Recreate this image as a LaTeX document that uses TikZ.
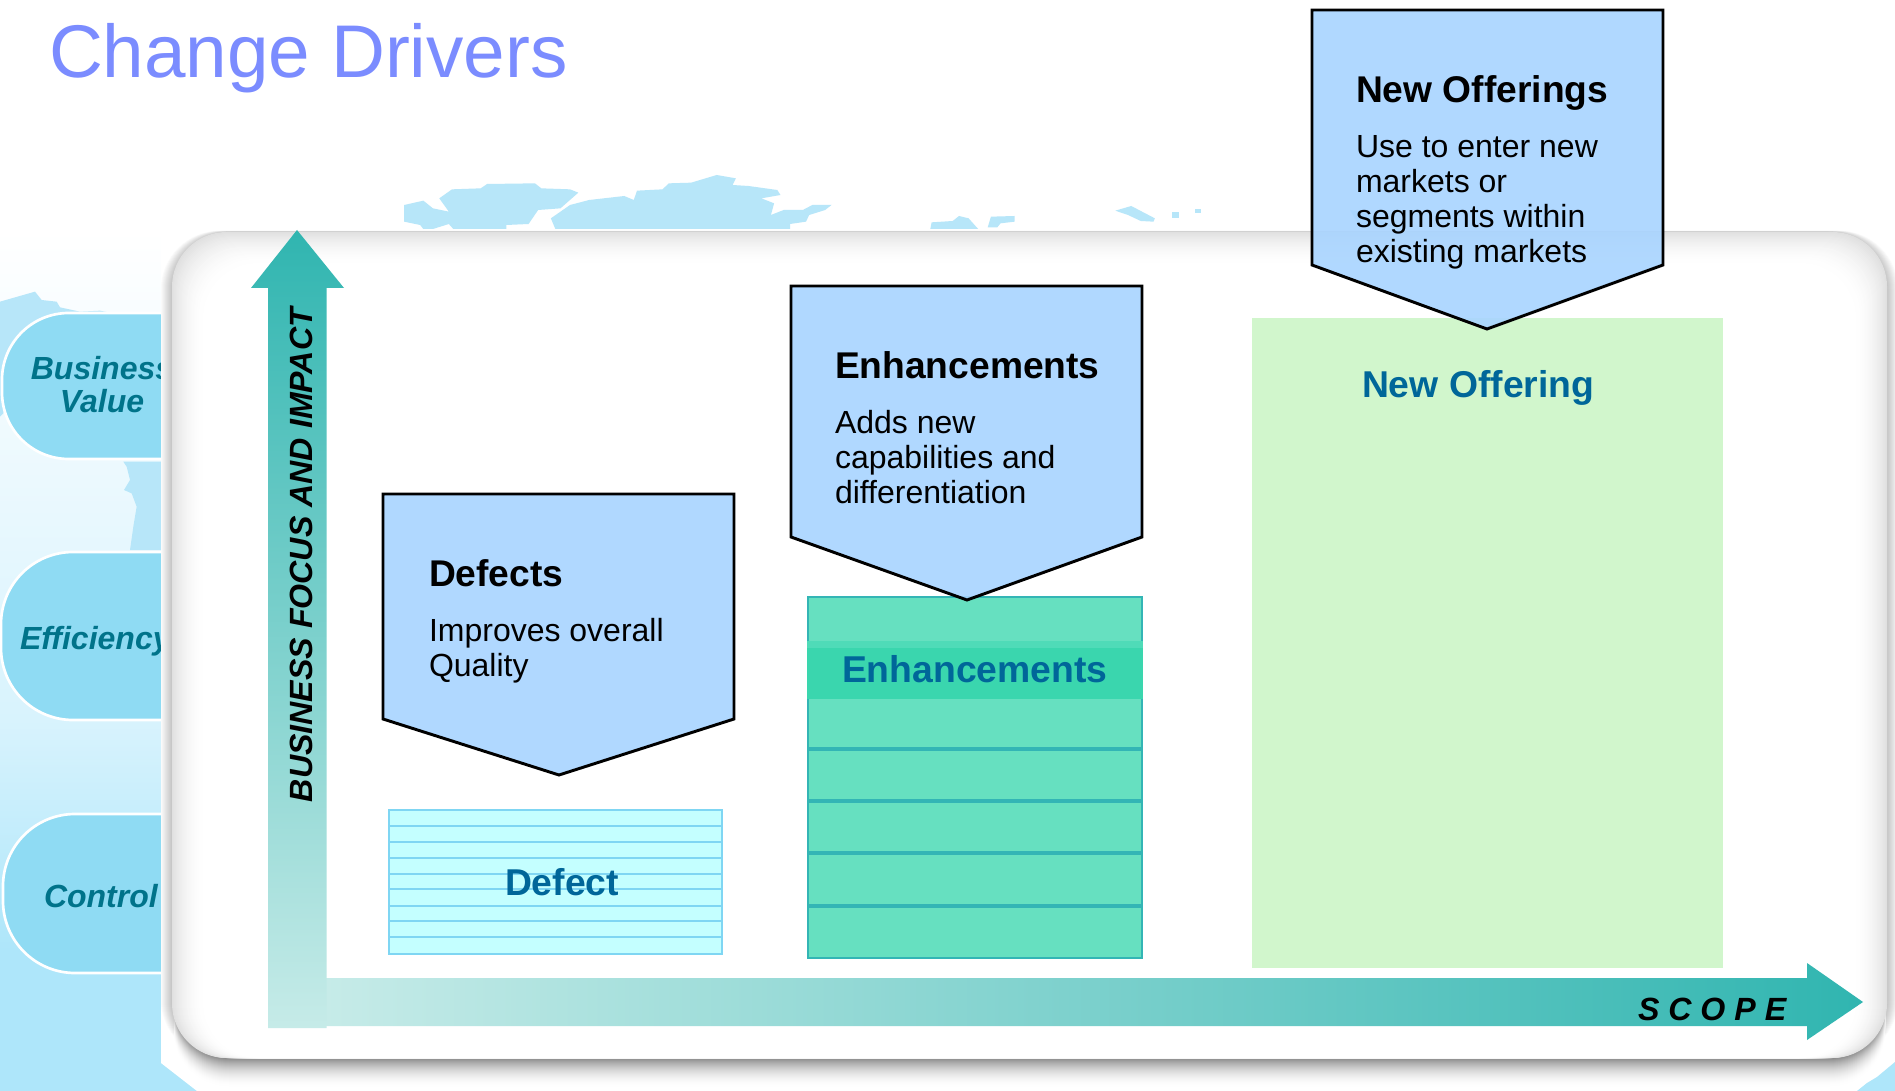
\documentclass[tikz,border=0pt]{standalone}
\usepackage{fontspec}
\setmainfont{Liberation Sans}
\definecolor{skyb}{HTML}{AEE6FA}
\definecolor{skym}{HTML}{D8F3FD}
\definecolor{mapb}{HTML}{B7E6F9}
\definecolor{pillb}{HTML}{8FDBF3}
\definecolor{pilltxt}{HTML}{00738A}
\definecolor{boxtxt}{HTML}{006699}
\definecolor{pentb}{HTML}{A8D4FF}
\definecolor{teal1}{HTML}{30B5B0}
\definecolor{teal2}{HTML}{93D5CF}
\definecolor{teal2x}{HTML}{A2DBD6}
\definecolor{teal3}{HTML}{C6EBE8}
\definecolor{defl}{HTML}{7FD6F3}
\definecolor{deff}{HTML}{C4FFFF}
\definecolor{enhf}{HTML}{66E0C0}
\definecolor{enhb}{HTML}{3AD6AE}
\definecolor{enhc}{HTML}{4FDBB8}
\definecolor{enhl}{HTML}{33B5B5}
\definecolor{newf}{HTML}{D1F6CC}
\definecolor{ttl}{HTML}{7B8CFF}
\tikzset{
  lbl/.style={inner sep=0,outer sep=0},
  pilltext/.style={lbl,text=pilltxt,font=\bfseries\itshape\fontsize{24}{24.75}\selectfont},
  pillshape/.style={fill=pillb,draw=white,line width=2pt},
  mapshape/.style={fill=mapb,draw=none},
  pent/.style={fill=pentb,fill opacity=.9,draw=black,draw opacity=1,line width=2.2pt,line join=miter},
  penttitle/.style={lbl,anchor=base west,font=\bfseries\fontsize{27.9}{30}\selectfont},
  pentbody/.style={lbl,anchor=base west,align=left,font=\fontsize{24}{26.25}\selectfont},
  boxlabel/.style={lbl,anchor=base west,text=boxtxt,font=\bfseries\fontsize{28}{30}\selectfont},
  axislabel/.style={lbl,text=black,font=\bfseries\itshape\fontsize{24.1}{26}\selectfont},
}
\begin{document}
\begin{tikzpicture}[x=0.75pt,y=-0.75pt]
\useasboundingbox (0,0) rectangle (1895,1091);
\fill[white] (0,0) rectangle (1895,1091);
% left background
\shade[top color=white,bottom color=skym,draw=none] (0,230) rectangle (200,720);
\shade[top color=skym,bottom color=skyb,draw=none] (0,720) rectangle (200,950);
\fill[skyb] (0,950) rectangle (200,1091);
% left map pieces
\begin{scope}[shift={(0,270)},x=.25pt,y=-.25pt]
\fill[mapshape] (0,95) -- (105,65) -- (125,90) -- (170,95) -- (180,112) -- (240,125) -- (300,122) -- (330,128) -- (330,300) -- (30,300) -- (10,430) -- (0,440) -- cycle;
\fill[mapshape] (370,575) -- (600,575) -- (600,840) -- (390,840) -- (400,770) -- (410,710) -- (395,670) -- (372,660) -- (390,630) -- (380,590) -- cycle;
\end{scope}
% pills
\draw[pillshape,rounded corners=50pt] (2,313) rectangle (300,459);
\draw[pillshape,rounded corners=54pt] (1,552) rectangle (300,720);
\draw[pillshape,rounded corners=54pt] (3,814) rectangle (300,973);
\node[pilltext,align=center,anchor=base] (bv) at (102,412) {Business\\Value};
\node[pilltext,anchor=base west] (eff) at (20,649) {Efficiency};
\node[pilltext,anchor=base west] (ctl) at (44,907) {Control};
% panel
\fill[white] (161,0) -- (1895,0) -- (1895,1062) -- (1877,1077) -- (1857,1091) -- (197,1091) -- (161,1063) -- cycle;
\begin{scope}
\clip (161,0) -- (1895,0) -- (1895,1062) -- (1877,1077) -- (1857,1091) -- (197,1091) -- (161,1063) -- cycle;
% soft halo on all sides
\foreach \i in {12,11,...,0}{
  \pgfmathsetmacro{\p}{24*(1-\i/12)}
  \fill[black!\p!white,rounded corners=44pt] (172-\i,232-.1*\i) rectangle (1887+\i,1058);
}
% stronger shadow under the panel
\foreach \i in {30,29,...,0}{
  \pgfmathsetmacro{\p}{48*(1-\i/30)*(1-\i/30)}
  \fill[black!\p!white,rounded corners=42pt] (174,900) rectangle (1885,1058+\i);
}
% inner face, fading to white
\foreach \i in {0,1,...,34}{
  \pgfmathsetmacro{\p}{12*(1-\i/34)*(1-\i/34)}
  \fill[black!\p!white,rounded corners=41pt] (172+\i,232+\i) rectangle (1887-\i,1058);
}
\end{scope}
\fill[skyb] (1857,1091) -- (1867,1083) -- (1877,1077) -- (1895,1062) -- (1895,1091) -- cycle;
% top map pieces
\begin{scope}[shift={(350,150)},x=.4783pt,y=-.25pt]
\fill[mapshape] (85,165) -- (115,152) -- (130,175) -- (155,185) -- (140,145) -- (160,118) -- (205,115) -- (215,102) -- (290,100) -- (300,115) -- (345,118) -- (358,128) -- (330,175) -- (295,180) -- (280,222) -- (245,225) -- (245,237) -- (162,237) -- (155,222) -- (130,237) -- (115,237) -- (110,225) -- (85,215) -- cycle;
\fill[mapshape] (315,205) -- (345,165) -- (375,150) -- (430,138) -- (445,150) -- (450,122) -- (490,118) -- (500,100) -- (535,98) -- (575,75) -- (605,85) -- (600,105) -- (625,108) -- (670,120) -- (675,135) -- (645,145) -- (665,160) -- (660,195) -- (680,180) -- (710,180) -- (725,165) -- (755,165) -- (745,180) -- (720,195) -- (715,215) -- (690,222) -- (690,237) -- (322,237) -- cycle;
\fill[mapshape] (910,237) -- (912,217) -- (945,213) -- (955,198) -- (970,205) -- (985,237) -- cycle;
\fill[mapshape] (1000,232) -- (1005,200) -- (1042,198) -- (1042,215) -- (1020,220) -- (1015,232) -- cycle;
\fill[mapshape] (1200,182) -- (1225,168) -- (1262,205) -- (1260,215) -- (1240,213) -- (1220,195) -- cycle;
\fill[mapshape] (1289,187) rectangle (1300,205);
\fill[mapshape] (1325,178) rectangle (1335,189);
\end{scope}
\fill[mapshape] (1350,210) -- (1362,212) -- (1393,226) -- (1360,227) -- cycle;
% axes
\shade[left color=teal3,middle color=teal2x,right color=teal1] (326,978) -- (1807,978) -- (1807,963) -- (1863,1002) -- (1807,1040) -- (1807,1026) -- (326,1026) -- cycle;
\shade[top color=teal1,middle color=teal2,bottom color=teal3] (297,230) -- (344,288) -- (326.5,288) -- (326.5,1028) -- (268,1028) -- (268,288) -- (251,288) -- cycle;
\node[axislabel,rotate=90,anchor=base west] (yl) at (312,802) {BUSINESS FOCUS AND IMPACT};
\node[axislabel,anchor=base west] (xl) at (1638,1020) {S C O P E};
% new offering box
\fill[newf] (1252,318) rectangle (1723,968);
\node[boxlabel] (nobox) at (1362,397) {New Offering};
% defect box
\draw[fill=deff,draw=defl,line width=1.7pt] (389,810) rectangle (722,954);
\foreach \y in {826,842,858,874,889,906,921,937}{
  \draw[defl,line width=2pt] (389,\y) -- (722,\y);
}
\node[boxlabel] (defbox) at (505,895) {Defect};
% enhancements box
\draw[fill=enhf,draw=enhl,line width=1.8pt] (808,597) rectangle (1142,958);
\fill[enhc] (807,641) rectangle (1143,648);
\fill[enhb] (807,648) rectangle (1143,699);
\foreach \y in {749,801,853,906}{
  \draw[enhl,line width=2.6pt] (808,\y) -- (1142,\y);
}
\node[boxlabel] (enhbox) at (842,682) {Enhancements};
% pentagons
\draw[pent] (383,494) -- (734,494) -- (734,719) -- (559,775) -- (383,719) -- cycle;
\node[penttitle] (dt) at (429,586) {Defects};
\node[pentbody] (db) at (429,676) {Improves overall\\Quality};
\draw[pent] (791,286) -- (1142,286) -- (1142,537) -- (967,600) -- (791,537) -- cycle;
\node[penttitle] (et) at (835,378) {Enhancements};
\node[pentbody] (eb) at (835,503) {Adds new\\capabilities and\\differentiation};
\draw[pent] (1312,10) -- (1663,10) -- (1663,265) -- (1487,329) -- (1312,265) -- cycle;
\node[penttitle] (nt) at (1356,103) {New Offerings};
\node[pentbody] (nb) at (1356,263) {Use to enter new\\markets or\\segments within\\existing markets};
% title
\node[lbl,anchor=base west,text=ttl,font=\fontsize{56}{60}\selectfont] (title) at (49,78) {Change Drivers};
\end{tikzpicture}
\end{document}
